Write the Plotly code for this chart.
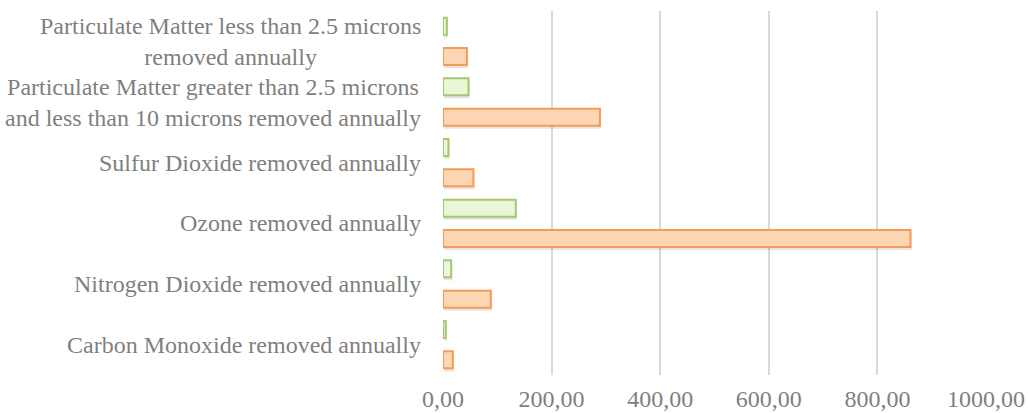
import plotly.graph_objects as go

# Pollutants, listed bottom-to-top as they appear on the category axis
categories = [
    "Carbon Monoxide removed annually",
    "Nitrogen Dioxide removed annually",
    "Ozone removed annually",
    "Sulfur Dioxide removed annually",
    "Particulate Matter greater than 2.5 microns<br>and less than 10 microns removed annually",
    "Particulate Matter less than 2.5 microns<br>removed annually",
]

# Two series per pollutant
series_orange = [18, 88, 861, 56, 289, 44]
series_green = [5, 15, 134, 10, 47, 7]

x_ticks = [0, 200, 400, 600, 800, 1000]
x_tick_labels = ["0,00", "200,00", "400,00", "600,00", "800,00", "1000,00"]

FONT = "Liberation Serif, Times New Roman, serif"
TEXT_COLOR = "#7f7f7f"
FONT_SIZE = 24

ORANGE_FILL = "#fdd6b4"
ORANGE_LINE = "#f79a55"
GREEN_FILL = "#eaf7d6"
GREEN_LINE = "#a5c772"

BAR_W = 0.28
ORANGE_OFF = -0.25 - BAR_W / 2
GREEN_OFF = 0.25 - BAR_W / 2
SHADOW_DROP = 0.05

idx = list(range(len(categories)))

fig = go.Figure()

# soft drop shadows beneath each bar
for vals, off in ((series_orange, ORANGE_OFF), (series_green, GREEN_OFF)):
    fig.add_trace(go.Bar(
        y=idx, x=vals, orientation="h", base=2,
        width=BAR_W, offset=off - SHADOW_DROP,
        marker=dict(color="rgba(0,0,0,0.10)", line=dict(width=0)),
        hoverinfo="skip", showlegend=False,
    ))

fig.add_trace(go.Bar(
    y=idx, x=series_orange, orientation="h",
    width=BAR_W, offset=ORANGE_OFF,
    marker=dict(color=ORANGE_FILL, line=dict(color=ORANGE_LINE, width=2)),
    showlegend=False,
))
fig.add_trace(go.Bar(
    y=idx, x=series_green, orientation="h",
    width=BAR_W, offset=GREEN_OFF,
    marker=dict(color=GREEN_FILL, line=dict(color=GREEN_LINE, width=2)),
    showlegend=False,
))

# centred, multi-line category labels to the left of the plot area
for i, label in enumerate(categories):
    fig.add_annotation(
        x=0, xref="paper", y=i, yref="y",
        text=label, showarrow=False, xanchor="right", yanchor="middle",
        align="center", xshift=-20,
        font=dict(family=FONT, size=FONT_SIZE, color=TEXT_COLOR),
    )

fig.update_layout(
    width=1028, height=413,
    margin=dict(l=443, r=42, t=11, b=38, autoexpand=False),
    paper_bgcolor="white", plot_bgcolor="white",
    barmode="overlay",
    font=dict(family=FONT, size=FONT_SIZE, color=TEXT_COLOR),
)
fig.update_xaxes(
    range=[0, 1000], tickvals=x_ticks, ticktext=x_tick_labels,
    showgrid=True, gridcolor="#d9d9d9", gridwidth=1.5,
    zeroline=False, showline=False, ticks="", ticklabelstandoff=7,
    automargin=False,
    tickfont=dict(family=FONT, size=FONT_SIZE, color=TEXT_COLOR),
)
fig.update_yaxes(
    range=[-0.5, len(categories) - 0.5], showticklabels=False,
    showgrid=False, zeroline=False, showline=False, automargin=False,
)

fig.write_html("out.html")
